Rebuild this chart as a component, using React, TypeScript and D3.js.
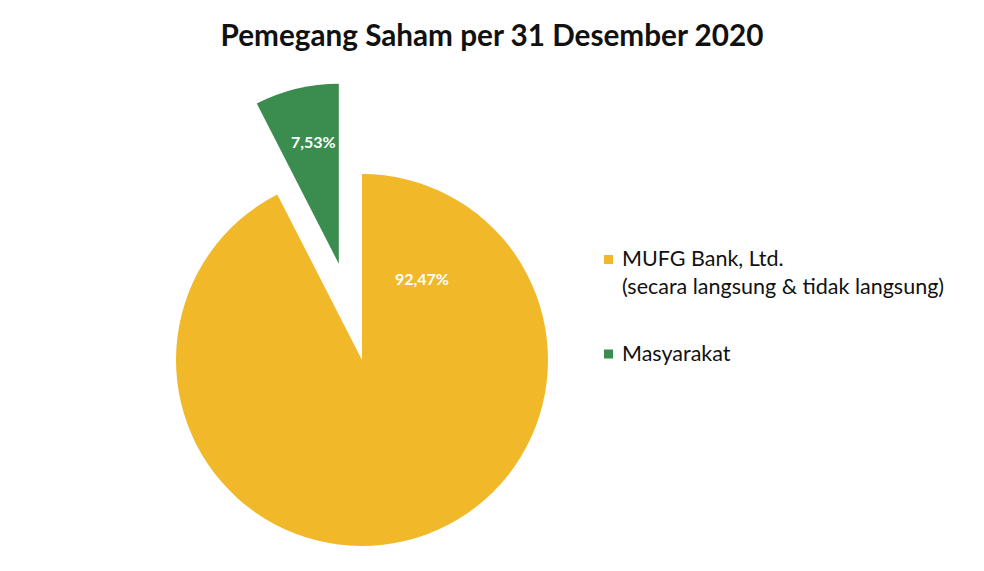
import React, { useEffect, useRef } from 'react';
import * as d3 from 'd3';

const categories = ['MUFG Bank, Ltd.', 'Masyarakat'];
const legendLines = [['MUFG Bank, Ltd.', '(secara langsung & tidak langsung)'], ['Masyarakat']];
const values = [92.47, 7.53];
const valueLabels = ['92,47%', '7,53%'];
const colors = ['#F1B82A', '#3B8C4F'];
const title = 'Pemegang Saham per 31 Desember 2020';

const W = 984;
const H = 571;

const App: React.FC = () => {
  const svgRef = useRef<SVGSVGElement>(null);

  useEffect(() => {
    if (!svgRef.current) return;
    const svg = d3.select(svgRef.current).html('');

    svg.append('rect').attr('width', W).attr('height', H).attr('fill', '#ffffff');

    // title
    svg.append('text')
      .attr('x', 492)
      .attr('y', 46)
      .attr('text-anchor', 'middle')
      .attr('font-family', 'Lato, "Open Sans", sans-serif')
      .attr('font-weight', 'bold')
      .attr('font-size', '29.7px')
      .attr('fill', '#111')
      .text(title);

    const cx = 362;
    const cy = 360;
    const radii = [186, 180];
    const explode = [0, 99];

    const pie = d3.pie<number>().value(d => d).sort(null);
    const arcs = pie(values);

    const g = svg.append('g').attr('transform', `translate(${cx},${cy})`);

    arcs.forEach((a, i) => {
      const mid = (a.startAngle + a.endAngle) / 2;
      const ox = Math.sin(mid) * explode[i];
      const oy = -Math.cos(mid) * explode[i];
      const arc = d3.arc<d3.PieArcDatum<number>>().innerRadius(0).outerRadius(radii[i]);
      const sg = g.append('g').attr('transform', `translate(${ox},${oy})`);
      sg.append('path').attr('d', arc(a) as string).attr('fill', colors[i]);

      // label position: green on bisector, yellow near its leading edge
      const la = i === 0 ? a.startAngle + 0.64 : mid + 0.03;
      const lr = i === 0 ? radii[i] * 0.54 : radii[i] * 0.69;
      sg.append('text')
        .attr('x', Math.sin(la) * lr)
        .attr('y', -Math.cos(la) * lr)
        .attr('dy', '0.35em')
        .attr('text-anchor', 'middle')
        .attr('font-family', 'Lato, "Open Sans", sans-serif')
        .attr('font-weight', 'bold')
        .attr('font-size', '16px')
        .attr('fill', '#ffffff')
        .text(valueLabels[i]);
    });

    // legend
    const legendY = d3.scalePoint<string>().domain(categories).range([259.5, 354]);
    categories.forEach((c, i) => {
      const y = legendY(c) as number;
      svg.append('rect')
        .attr('x', 604)
        .attr('y', y - 4.5)
        .attr('width', 9)
        .attr('height', 9)
        .attr('fill', colors[i]);
      legendLines[i].forEach((line, j) => {
        svg.append('text')
          .attr('x', 622)
          .attr('y', y + 6.5 + j * 27.5)
          .attr('font-family', 'Lato, "Open Sans", sans-serif')
          .attr('font-size', '21.5px')
          .attr('fill', '#111')
          .text(line);
      });
    });
  }, []);

  return (
    <div style={{ position: 'absolute', left: 0, top: 0 }}>
      <svg ref={svgRef} width={W} height={H} style={{ display: 'block' }}></svg>
    </div>
  );
};

export default App;
